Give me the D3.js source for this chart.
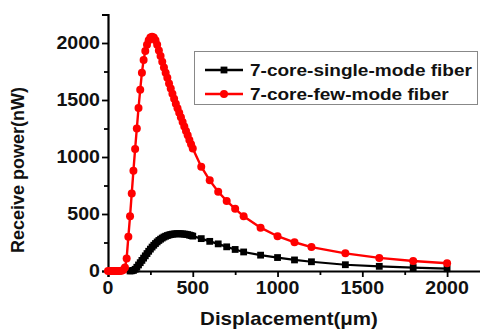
<!DOCTYPE html>
<html><head><meta charset="utf-8">
<script src="https://cdn.jsdelivr.net/npm/d3@7/dist/d3.min.js"></script>
<style>html,body{margin:0;padding:0;background:#fff;}svg{display:block;}</style>
</head><body><svg id="c" width="480" height="331"></svg>
<script>
const xTicks = [0, 500, 1000, 1500, 2000];
const xMinor = [250, 750, 1250, 1750];
const yTicks = [0, 500, 1000, 1500, 2000];
const yMinor = [250, 750, 1250, 1750];
const seriesNames = ["7-core-single-mode fiber", "7-core-few-mode fiber"];

const singleX = [130,140,150,160,170,180,190,200,210,220,230,240,250,260,270,280,290,300,310,320,330,340,350,360,370,380,390,400,410,420,430,440,450,460,470,480,490,500,550,600,650,700,750,800,900,1000,1100,1200,1400,1600,1800,2000];
const singleY = [0,2,5,15,33,53,73,93,113,133,153,173,192,210,226,241,255,268,279,289,298,305,311,316,320,323,325,326,327,327,326,325,324,322,319,315,311,306,284,260,238,212,189,167,139,118,97,81,55,41,30,20];

const fewX = [0,10,20,30,40,50,60,70,80,90,100,110,120,130,140,150,160,170,180,190,200,210,220,230,240,250,260,270,280,290,300,310,320,330,340,350,360,370,380,390,400,410,420,430,440,450,460,470,480,490,500,550,600,650,700,750,800,900,1000,1100,1200,1400,1600,1800,2000];
const fewY = [0,0,0,0,0,0,0,0,2,8,30,110,300,480,680,880,1070,1250,1430,1590,1740,1850,1930,1985,2025,2048,2055,2048,2025,1985,1935,1885,1835,1785,1740,1695,1645,1600,1555,1510,1468,1428,1388,1348,1308,1268,1228,1190,1150,1112,1075,915,795,695,615,545,480,380,305,252,210,155,115,88,68];

const svg = d3.select("#c");
const x = d3.scaleLinear().domain([0, 2200]).range([108, 481]);
const y = d3.scaleLinear().domain([0, 2250]).range([271, 14.5]);
const FONT = "'Liberation Sans', Arial, sans-serif";

function txt(g, px, py, s, size, anchor, rot, sx) {
  return g.append("text")
    .attr("transform", `translate(${px},${py})` + (rot ? ` rotate(${rot})` : "") + ` scale(${sx},1)`)
    .attr("font-family", FONT).attr("font-weight", "bold").attr("font-size", size)
    .attr("text-anchor", anchor).attr("fill", "#111").text(s);
}

// axes
const gx = svg.append("g").attr("transform", `translate(0,${y(0)})`)
  .call(d3.axisBottom(x).tickValues(xTicks).tickSize(6).tickFormat(""));
const gxm = svg.append("g").attr("transform", `translate(0,${y(0)})`)
  .call(d3.axisBottom(x).tickValues(xMinor).tickSize(4).tickFormat(""));
gxm.select(".domain").remove();
const gy = svg.append("g").attr("transform", `translate(${x(0)},0)`)
  .call(d3.axisLeft(y).tickValues(yTicks).tickSize(6).tickFormat(""));
const gym = svg.append("g").attr("transform", `translate(${x(0)},0)`)
  .call(d3.axisLeft(y).tickValues(yMinor).tickSize(4).tickFormat(""));
gym.select(".domain").remove();
svg.selectAll(".domain").attr("stroke", "#000").attr("stroke-width", 2.2);
svg.selectAll(".tick line").attr("stroke", "#000").attr("stroke-width", 1.8);

const labels = svg.append("g");
xTicks.forEach(v => txt(labels, x(v), 294, String(v), 17.5, "middle", 0, 1.12));
yTicks.forEach(v => txt(labels, 100, y(v) + 6, String(v), 17.5, "end", 0, 1.12));
txt(labels, 289, 325, "Displacement(\u03bcm)", 18, "middle", 0, 1.14);
txt(labels, 24, 170, "Receive power(nW)", 18, "middle", -90, 1);

// series
const line = d3.line().x(d => x(d[0])).y(d => y(d[1]));
const single = singleX.map((v, i) => [v, singleY[i]]);
const few = fewX.map((v, i) => [v, fewY[i]]);

svg.append("path").datum(single).attr("d", line).attr("fill", "none").attr("stroke", "#000").attr("stroke-width", 2.2);
svg.append("g").selectAll("rect").data(single).join("rect")
  .attr("x", d => x(d[0]) - 3.4).attr("y", d => y(d[1]) - 3.4).attr("width", 6.8).attr("height", 6.8).attr("fill", "#000");

svg.append("path").datum(few).attr("d", line).attr("fill", "none").attr("stroke", "#ff0000").attr("stroke-width", 2.4);
svg.append("g").selectAll("circle").data(few).join("circle")
  .attr("cx", d => x(d[0])).attr("cy", d => y(d[1])).attr("r", 4).attr("fill", "#ff0000");

// legend
const lg = svg.append("g");
lg.append("rect").attr("x", 194.5).attr("y", 51.5).attr("width", 283).attr("height", 53)
  .attr("fill", "#fff").attr("stroke", "#888").attr("stroke-width", 1);
const colors = ["#000", "#ff0000"];
seriesNames.forEach((n, i) => {
  const cy = 70 + i * 24;
  lg.append("line").attr("x1", 205).attr("x2", 243).attr("y1", cy).attr("y2", cy)
    .attr("stroke", colors[i]).attr("stroke-width", 2.4);
  if (i === 0) lg.append("rect").attr("x", 220.6).attr("y", cy - 3.4).attr("width", 6.8).attr("height", 6.8).attr("fill", colors[i]);
  else lg.append("circle").attr("cx", 224).attr("cy", cy).attr("r", 4).attr("fill", colors[i]);
  txt(lg, 250, cy + 6, n, 17, "start", 0, 1.12);
});
</script></body></html>
